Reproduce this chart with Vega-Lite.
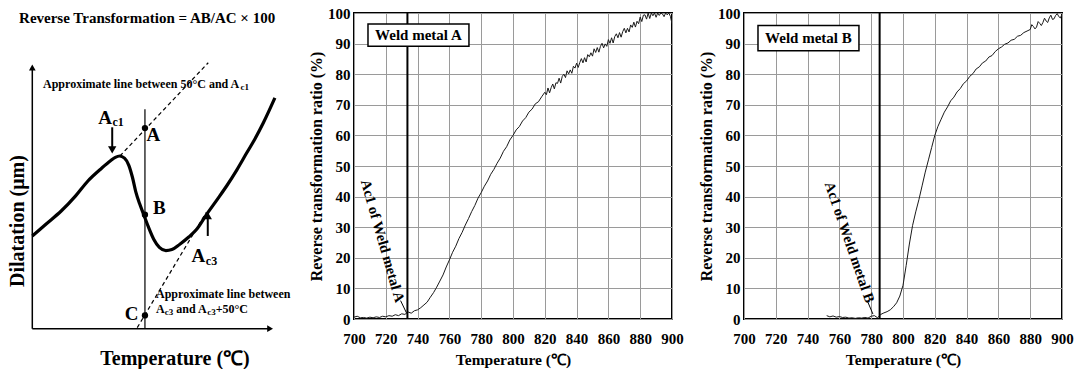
{
  "$schema": "https://vega.github.io/schema/vega-lite/v6.json",
  "padding": {"left": 0, "top": 5, "right": 0, "bottom": 0},
  "bounds": "flush",
  "spacing": 72,
  "background": "white",
  "config": {
    "font": "Liberation Serif",
    "view": {"stroke": "black", "strokeWidth": 2},
    "axis": {
      "labelFont": "Liberation Serif", "labelFontSize": 15, "labelFontWeight": "bold", "labelColor": "black",
      "titleFont": "Liberation Serif", "titleFontSize": 15.5, "titleFontWeight": "bold", "titleColor": "black",
      "ticks": false, "domain": false, "gridColor": "#9a9a9a", "gridWidth": 1, "gridOpacity": 1,
      "labelFlush": false, "labelOverlap": false
    }
  },
  "datasets": {
    "wa": [
      {"T":700,"R":0.6},{"T":702,"R":0.9},{"T":704,"R":0.4},{"T":706,"R":0.5},{"T":708,"R":0.3},{"T":710,"R":0.6},{"T":712,"R":0.4},{"T":714,"R":0.7},{"T":716,"R":0.5},{"T":718,"R":0.9},
      {"T":720,"R":0.7},{"T":722,"R":1.1},{"T":724,"R":0.9},{"T":726,"R":1.4},{"T":728,"R":1.1},{"T":730,"R":1.7},{"T":732,"R":1.5},{"T":734,"R":2.3},{"T":736,"R":1.9},{"T":738,"R":2.7},
      {"T":740,"R":3.0},{"T":742,"R":3.7},{"T":744,"R":4.6},{"T":746,"R":5.5},{"T":748,"R":7.1},{"T":750,"R":8.6},{"T":752,"R":10.4},{"T":754,"R":12.4},{"T":756,"R":14.4},{"T":758,"R":17.0},
      {"T":760,"R":19.3},{"T":762,"R":21.8},{"T":764,"R":23.8},{"T":766,"R":26.3},{"T":768,"R":28.3},{"T":770,"R":30.7},{"T":772,"R":32.8},{"T":774,"R":35.1},{"T":776,"R":37.1},{"T":778,"R":39.5},
      {"T":780,"R":41.3},{"T":782,"R":43.4},{"T":784,"R":45.1},{"T":786,"R":47.3},{"T":788,"R":48.9},{"T":790,"R":50.9},{"T":792,"R":52.6},{"T":794,"R":54.8},{"T":796,"R":56.3},{"T":798,"R":58.5},
      {"T":800,"R":60.0},{"T":802,"R":61.8},{"T":804,"R":62.9},{"T":806,"R":64.7},{"T":808,"R":65.8},{"T":810,"R":67.6},{"T":812,"R":68.6},{"T":814,"R":70.3},{"T":816,"R":71.0},{"T":818,"R":72.6},
      {"T":820,"R":74.1},{"T":821,"R":73.3},{"T":822,"R":75.5},{"T":823,"R":73.9},{"T":824,"R":75.6},{"T":825,"R":76.8},{"T":826,"R":75.2},{"T":827,"R":77.2},{"T":828,"R":77.0},{"T":829,"R":78.7},
      {"T":830,"R":77.1},{"T":831,"R":79.3},{"T":832,"R":80.0},{"T":833,"R":78.9},{"T":834,"R":81.1},{"T":835,"R":80.1},{"T":836,"R":81.4},{"T":837,"R":80.3},{"T":838,"R":82.6},{"T":839,"R":82.0},
      {"T":840,"R":83.6},{"T":841,"R":82.2},{"T":842,"R":83.8},{"T":843,"R":85.1},{"T":844,"R":83.7},{"T":845,"R":85.4},{"T":846,"R":84.0},{"T":847,"R":86.4},{"T":848,"R":85.7},{"T":849,"R":87.0},
      {"T":850,"R":85.9},{"T":851,"R":88.3},{"T":852,"R":87.1},{"T":853,"R":88.7},{"T":854,"R":87.2},{"T":855,"R":89.1},{"T":856,"R":90.1},{"T":857,"R":88.6},{"T":858,"R":89.9},{"T":859,"R":89.1},
      {"T":860,"R":91.3},{"T":861,"R":90.1},{"T":862,"R":91.9},{"T":863,"R":90.2},{"T":864,"R":92.3},{"T":865,"R":93.2},{"T":866,"R":91.9},{"T":867,"R":93.6},{"T":868,"R":92.1},{"T":869,"R":93.9},
      {"T":870,"R":95.0},{"T":871,"R":93.5},{"T":872,"R":95.0},{"T":873,"R":93.8},{"T":874,"R":96.1},{"T":875,"R":95.3},{"T":876,"R":97.0},{"T":877,"R":95.4},{"T":878,"R":97.3},{"T":879,"R":96.5},
      {"T":880,"R":98.7},{"T":881,"R":97.2},{"T":882,"R":99.3},{"T":883,"R":99.4},{"T":884,"R":98.0},{"T":885,"R":100},{"T":886,"R":98.2},{"T":887,"R":100},{"T":888,"R":99.1},{"T":889,"R":100},
      {"T":890,"R":98.6},{"T":891,"R":100},{"T":892,"R":99.2},{"T":893,"R":100},{"T":894,"R":99.7},{"T":895,"R":98.8},{"T":896,"R":100},{"T":897,"R":99.4},{"T":898,"R":100},{"T":899,"R":98.9},{"T":900,"R":96.5}
    ],
    "wb": [
      {"T":752,"R":1.1},{"T":754,"R":0.7},{"T":756,"R":1.0},{"T":758,"R":0.6},{"T":760,"R":0.8},{"T":762,"R":0.5},{"T":764,"R":0.6},{"T":766,"R":0.3},{"T":768,"R":0.4},{"T":770,"R":0.2},
      {"T":772,"R":0.4},{"T":774,"R":0.3},{"T":776,"R":0.5},{"T":778,"R":0.3},{"T":780,"R":0.9},{"T":782,"R":1.1},{"T":784,"R":0.4},{"T":786,"R":1.5},{"T":788,"R":2.0},{"T":790,"R":2.4},
      {"T":792,"R":3.0},{"T":794,"R":4.0},{"T":796,"R":5.3},{"T":798,"R":7.5},{"T":800,"R":11.0},{"T":802,"R":17.5},{"T":804,"R":24.5},{"T":806,"R":30.5},{"T":808,"R":35.0},{"T":810,"R":39.0},
      {"T":812,"R":43.5},{"T":814,"R":48.0},{"T":816,"R":52.0},{"T":818,"R":56.0},{"T":820,"R":60.0},{"T":822,"R":63.0},{"T":824,"R":65.3},{"T":826,"R":67.6},{"T":828,"R":69.3},{"T":830,"R":71.3},
      {"T":832,"R":72.5},{"T":834,"R":74.2},{"T":836,"R":75.3},{"T":838,"R":76.9},{"T":840,"R":77.8},{"T":842,"R":79.3},{"T":844,"R":80.2},{"T":846,"R":81.7},{"T":848,"R":82.4},{"T":850,"R":83.7},
      {"T":852,"R":84.3},{"T":854,"R":85.6},{"T":856,"R":86.1},{"T":858,"R":87.4},{"T":860,"R":88.3},{"T":862,"R":88.9},{"T":864,"R":89.8},{"T":866,"R":90.2},{"T":868,"R":91.1},{"T":870,"R":91.4},
      {"T":872,"R":92.4},{"T":874,"R":92.7},{"T":876,"R":93.6},{"T":878,"R":94.1},{"T":880,"R":94.6},{"T":881,"R":96.2},{"T":882,"R":95.6},{"T":883,"R":94.8},{"T":884,"R":95.4},{"T":885,"R":97.2},
      {"T":886,"R":96.6},{"T":887,"R":95.9},{"T":888,"R":96.9},{"T":889,"R":98.3},{"T":890,"R":97.4},{"T":891,"R":96.9},{"T":892,"R":98.4},{"T":893,"R":99.3},{"T":894,"R":97.9},{"T":895,"R":98.1},
      {"T":896,"R":99.2},{"T":897,"R":99.8},{"T":898,"R":98.8},{"T":899,"R":98.4},{"T":900,"R":99.6}
    ],
    "curve": [
      {"u":0,"v":34.9},{"u":6,"v":39.6},{"u":12,"v":44.3},{"u":18,"v":50.0},{"u":23.1,"v":55.6},{"u":28.8,"v":60.4},{"u":32.5,"v":63.2},{"u":34.5,"v":64.5},{"u":36.3,"v":65.0},
      {"u":38.3,"v":64.2},{"u":40.1,"v":61.5},{"u":41.6,"v":57.0},{"u":43.0,"v":51.5},{"u":44.6,"v":47.0},{"u":46.1,"v":43.4},{"u":48.2,"v":38.4},{"u":50.5,"v":33.6},{"u":52.8,"v":30.6},{"u":55.5,"v":29.4},
      {"u":58.0,"v":29.8},{"u":61.3,"v":31.8},{"u":65.0,"v":34.5},{"u":68.3,"v":37.4},{"u":72.7,"v":43.4},{"u":76.8,"v":48.6},{"u":80.8,"v":53.8},{"u":85.0,"v":59.8},{"u":89.1,"v":66.2},{"u":92.6,"v":71.6},{"u":96.0,"v":77.5},{"u":100.8,"v":86.9}
    ]
  },
  "hconcat": [
    {
      "width": 282,
      "height": 350,
      "view": {"stroke": null},
      "encoding": {
        "x": {"field": "u", "type": "quantitative", "scale": {"domain": [-13.42, 103.74], "nice": false, "zero": false}, "axis": null},
        "y": {"field": "v", "type": "quantitative", "scale": {"domain": [-12.91, 118.82], "nice": false, "zero": false}, "axis": null}
      },
      "layer": [
        {
          "data": {"values": [{"u": 0, "v": 0, "u2": 0, "v2": 98}, {"u": 0, "v": 0, "u2": 98.5, "v2": 0}]},
          "mark": {"type": "rule", "strokeWidth": 1.5, "color": "black"},
          "encoding": {"x2": {"field": "u2"}, "y2": {"field": "v2"}}
        },
        {
          "data": {"values": [{"u": 0, "v": 98.3, "dir": "up"}, {"u": 98.8, "v": 0, "dir": "right"}]},
          "mark": {"type": "point", "filled": true, "size": 45, "color": "black", "opacity": 1},
          "encoding": {"shape": {"field": "dir", "type": "nominal", "scale": {"domain": ["up", "right", "down"], "range": ["triangle-up", "triangle-right", "triangle-down"]}, "legend": null}}
        },
        {
          "data": {"values": [{"u": 46.8, "v": 0, "u2": 46.8, "v2": 82.6}]},
          "mark": {"type": "rule", "strokeWidth": 1.2, "color": "black"},
          "encoding": {"x2": {"field": "u2"}, "y2": {"field": "v2"}}
        },
        {
          "data": {"values": [{"u": 36.4, "v": 65.0, "u2": 73.1, "v2": 100.1}, {"u": 43.6, "v": 0.4, "u2": 72.2, "v2": 43.7}]},
          "mark": {"type": "rule", "strokeWidth": 1.2, "color": "black", "strokeDash": [4, 3]},
          "encoding": {"x2": {"field": "u2"}, "y2": {"field": "v2"}}
        },
        {
          "data": {"name": "curve"},
          "mark": {"type": "line", "strokeWidth": 3.2, "color": "black", "interpolate": "monotone"},
          "encoding": {}
        },
        {
          "data": {"values": [{"u": 33.2, "v": 75.8, "u2": 33.2, "v2": 68.0}, {"u": 72.9, "v": 34.9, "u2": 72.9, "v2": 42.0}]},
          "mark": {"type": "rule", "strokeWidth": 2, "color": "black"},
          "encoding": {"x2": {"field": "u2"}, "y2": {"field": "v2"}}
        },
        {
          "data": {"values": [{"u": 33.2, "v": 67.3, "dir": "down"}, {"u": 72.9, "v": 42.6, "dir": "up"}]},
          "mark": {"type": "point", "filled": true, "size": 70, "color": "black", "opacity": 1},
          "encoding": {"shape": {"field": "dir", "type": "nominal", "scale": {"domain": ["up", "right", "down"], "range": ["triangle-up", "triangle-right", "triangle-down"]}, "legend": null}}
        },
        {
          "data": {"values": [{"u": 46.8, "v": 75.5}, {"u": 46.8, "v": 42.9}, {"u": 46.8, "v": 5.0}]},
          "mark": {"type": "point", "filled": true, "size": 40, "color": "black", "opacity": 1, "shape": "circle"}
        },
        {
          "data": {"values": [{"u": 47.7, "v": 117.1, "t": "Reverse Transformation = AB/AC × 100"}]},
          "mark": {"type": "text", "fontSize": 15, "fontWeight": "bold", "font": "Liberation Serif", "align": "center", "baseline": "middle", "color": "black"},
          "encoding": {"text": {"field": "t"}}
        },
        {
          "data": {"values": [{"u": 59.3, "v": -11.4, "t": "Temperature (℃)"}]},
          "mark": {"type": "text", "fontSize": 20, "fontWeight": "bold", "font": "Liberation Serif", "align": "center", "baseline": "middle", "color": "black"},
          "encoding": {"text": {"field": "t"}}
        },
        {
          "data": {"values": [{"u": -6.0, "v": 40.5, "t": "Dilatation (μm)"}]},
          "mark": {"type": "text", "fontSize": 20, "fontWeight": "bold", "font": "Liberation Serif", "align": "center", "baseline": "middle", "angle": 270, "color": "black"},
          "encoding": {"text": {"field": "t"}}
        },
        {
          "data": {"values": [
            {"u": 50.3, "v": 72.8, "t": "A"}, {"u": 52.8, "v": 45.5, "t": "B"}, {"u": 41.3, "v": 5.4, "t": "C"},
            {"u": 30.2, "v": 79.4, "t": "A"}, {"u": 69.0, "v": 27.4, "t": "A"}
          ]},
          "mark": {"type": "text", "fontSize": 19, "fontWeight": "bold", "font": "Liberation Serif", "align": "center", "baseline": "middle", "color": "black"},
          "encoding": {"text": {"field": "t"}}
        },
        {
          "data": {"values": [
            {"u": 33.3, "v": 77.8, "t": "c1"}, {"u": 72.1, "v": 25.5, "t": "c3"},
            {"u": 4.45, "v": 92.1, "t": "Approximate line between 50°C and A"},
            {"u": 51.4, "v": 13.1, "t": "Approximate line between"},
            {"u": 51.4, "v": 7.4, "t": "A"}, {"u": 59.8, "v": 7.4, "t": "and A"}, {"u": 76.2, "v": 7.4, "t": "+50°C"}
          ]},
          "mark": {"type": "text", "fontSize": 12, "fontWeight": "bold", "font": "Liberation Serif", "align": "left", "baseline": "middle", "color": "black"},
          "encoding": {"text": {"field": "t"}}
        },
        {
          "data": {"values": [
            {"u": 86.5, "v": 90.8, "t": "c1"}, {"u": 55.0, "v": 6.1, "t": "c3"}, {"u": 72.7, "v": 6.1, "t": "c3"}
          ]},
          "mark": {"type": "text", "fontSize": 9, "fontWeight": "bold", "font": "Liberation Serif", "align": "left", "baseline": "middle", "color": "black"},
          "encoding": {"text": {"field": "t"}}
        }
      ]
    },
    {
      "width": 318,
      "height": 306,
      "encoding": {
        "x": {"field": "T", "type": "quantitative", "scale": {"domain": [700, 900], "nice": false, "zero": false},
              "axis": {"values": [700, 720, 740, 760, 780, 800, 820, 840, 860, 880, 900], "title": "Temperature (℃)", "labelPadding": 12, "titlePadding": 6}},
        "y": {"field": "R", "type": "quantitative", "scale": {"domain": [0, 100], "nice": false, "zero": false},
              "axis": {"values": [0, 10, 20, 30, 40, 50, 60, 70, 80, 90, 100], "title": "Reverse transformation ratio (%)", "titleFontSize": 16, "labelPadding": 4, "titlePadding": 3}}
      },
      "layer": [
        {
          "data": {"name": "wa"},
          "mark": {"type": "line", "strokeWidth": 1, "color": "#1a1a1a", "clip": true},
          "encoding": {}
        },
        {
          "data": {"values": [{"T": 733.6, "R": 0, "R2": 100}]},
          "mark": {"type": "rule", "strokeWidth": 2, "color": "black"},
          "encoding": {"y2": {"field": "R2"}}
        },
        {
          "data": {"values": [{"T": 708.8, "T2": 772.3, "R": 89.1, "R2": 96.4}]},
          "mark": {"type": "rect", "fill": "white", "stroke": "black", "strokeWidth": 1.5},
          "encoding": {"x2": {"field": "T2"}, "y2": {"field": "R2"}}
        },
        {
          "data": {"values": [{"T": 740.5, "R": 92.75, "t": "Weld metal A"}]},
          "mark": {"type": "text", "fontSize": 15, "fontWeight": "bold", "font": "Liberation Serif", "align": "center", "baseline": "middle", "color": "black"},
          "encoding": {"text": {"field": "t"}}
        },
        {
          "data": {"values": [{"T": 717.6, "R": 25.4, "t": "Ac1 of Weld metal A"}]},
          "mark": {"type": "text", "fontSize": 14.5, "fontWeight": "bold", "font": "Liberation Serif", "align": "center", "baseline": "middle", "angle": 74, "color": "black"},
          "encoding": {"text": {"field": "t"}}
        },
        {
          "data": {"values": [{"T": 729.3, "R": 6.0, "T2": 733.0, "R2": 2.0}]},
          "mark": {"type": "rule", "strokeWidth": 1, "color": "black"},
          "encoding": {"x2": {"field": "T2"}, "y2": {"field": "R2"}}
        }
      ]
    },
    {
      "width": 318,
      "height": 306,
      "encoding": {
        "x": {"field": "T", "type": "quantitative", "scale": {"domain": [700, 900], "nice": false, "zero": false},
              "axis": {"values": [700, 720, 740, 760, 780, 800, 820, 840, 860, 880, 900], "title": "Temperature (℃)", "labelPadding": 12, "titlePadding": 6}},
        "y": {"field": "R", "type": "quantitative", "scale": {"domain": [0, 100], "nice": false, "zero": false},
              "axis": {"values": [0, 10, 20, 30, 40, 50, 60, 70, 80, 90, 100], "title": "Reverse transformation ratio (%)", "titleFontSize": 16, "labelPadding": 4, "titlePadding": 3}}
      },
      "layer": [
        {
          "data": {"name": "wb"},
          "mark": {"type": "line", "strokeWidth": 1, "color": "#1a1a1a", "clip": true},
          "encoding": {}
        },
        {
          "data": {"values": [{"T": 785.3, "R": 0, "R2": 100}]},
          "mark": {"type": "rule", "strokeWidth": 2, "color": "black"},
          "encoding": {"y2": {"field": "R2"}}
        },
        {
          "data": {"values": [{"T": 708.8, "T2": 772.3, "R": 87.7, "R2": 95.9}]},
          "mark": {"type": "rect", "fill": "white", "stroke": "black", "strokeWidth": 1.5},
          "encoding": {"x2": {"field": "T2"}, "y2": {"field": "R2"}}
        },
        {
          "data": {"values": [{"T": 740.5, "R": 91.8, "t": "Weld metal B"}]},
          "mark": {"type": "text", "fontSize": 15, "fontWeight": "bold", "font": "Liberation Serif", "align": "center", "baseline": "middle", "color": "black"},
          "encoding": {"text": {"field": "t"}}
        },
        {
          "data": {"values": [{"T": 766.0, "R": 25.0, "t": "Ac1 of Weld metal B"}]},
          "mark": {"type": "text", "fontSize": 14.5, "fontWeight": "bold", "font": "Liberation Serif", "align": "center", "baseline": "middle", "angle": 71, "color": "black"},
          "encoding": {"text": {"field": "t"}}
        },
        {
          "data": {"values": [{"T": 778.0, "R": 5.4, "T2": 781.1, "R2": 1.6}]},
          "mark": {"type": "rule", "strokeWidth": 1, "color": "black"},
          "encoding": {"x2": {"field": "T2"}, "y2": {"field": "R2"}}
        }
      ]
    }
  ]
}
